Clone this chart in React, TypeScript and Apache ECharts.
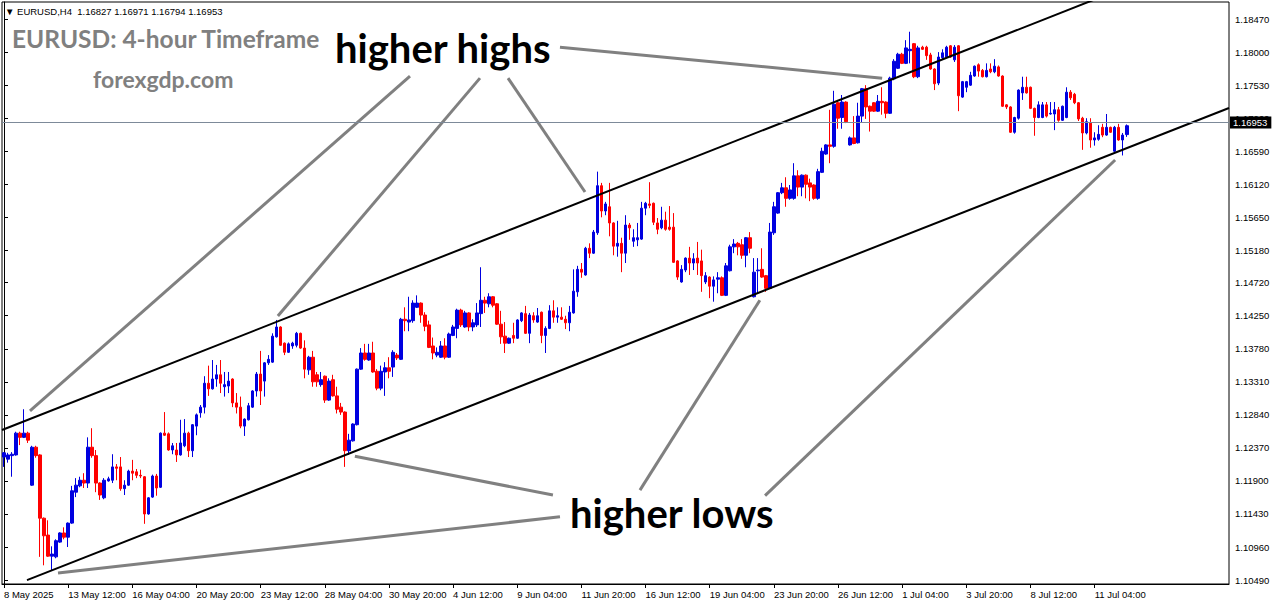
import React, { useEffect, useRef } from "react";
import * as echarts from "echarts";

// ---- Data (EURUSD H4) ----
const xTickLabels = [
  "8 May 2025", "13 May 12:00", "16 May 04:00", "20 May 20:00", "23 May 12:00",
  "28 May 04:00", "30 May 20:00", "4 Jun 12:00", "9 Jun 04:00", "11 Jun 20:00",
  "16 Jun 12:00", "19 Jun 04:00", "23 Jun 20:00", "26 Jun 12:00", "1 Jul 04:00",
  "3 Jul 20:00", "8 Jul 12:00", "11 Jul 04:00",
];

const yTickValues = [
  1.1049, 1.1096, 1.1143, 1.119, 1.1237, 1.1284, 1.1331, 1.1378, 1.1425,
  1.1472, 1.1518, 1.1565, 1.1612, 1.1659, 1.1706, 1.1753, 1.18, 1.1847,
];

const opens = [
  1.1224, 1.1221, 1.1226, 1.1227, 1.1258, 1.1252, 1.1258, 1.1184, 1.1238, 1.1227,
  1.1137, 1.1113, 1.1083, 1.1082, 1.1103, 1.1116, 1.1110, 1.1130, 1.1174, 1.1183,
  1.1191, 1.1187, 1.1238, 1.1226, 1.1187, 1.1166, 1.1190, 1.1191, 1.1210, 1.1210,
  1.1179, 1.1184, 1.1204, 1.1203, 1.1198, 1.1196, 1.1143, 1.1167, 1.1197, 1.1181,
  1.1258, 1.1257, 1.1234, 1.1234, 1.1227, 1.1240, 1.1258, 1.1233, 1.1268, 1.1287,
  1.1295, 1.1329, 1.1321, 1.1335, 1.1341, 1.1324, 1.1325, 1.1335, 1.1301, 1.1295,
  1.1268, 1.1277, 1.1295, 1.1318, 1.1342, 1.1332, 1.1358, 1.1359, 1.1395, 1.1409,
  1.1386, 1.1373, 1.1382, 1.1383, 1.1400, 1.1379, 1.1348, 1.1366, 1.1341, 1.1327,
  1.1339, 1.1305, 1.1334, 1.1311, 1.1295, 1.1288, 1.1233, 1.1247, 1.1270, 1.1349,
  1.1372, 1.1362, 1.1372, 1.1346, 1.1322, 1.1345, 1.1351, 1.1352, 1.1369, 1.1363,
  1.1420, 1.1416, 1.1418, 1.1437, 1.1443, 1.1426, 1.1412, 1.1382, 1.1369, 1.1366,
  1.1382, 1.1366, 1.1397, 1.1407, 1.1433, 1.1409, 1.1429, 1.1409, 1.1412, 1.1428,
  1.1447, 1.1442, 1.1452, 1.1442, 1.1413, 1.1396, 1.1386, 1.1397, 1.1393, 1.1418,
  1.1428, 1.1400, 1.1425, 1.1416, 1.1430, 1.1397, 1.1407, 1.1432, 1.1423, 1.1423,
  1.1420, 1.1415, 1.1429, 1.1459, 1.1491, 1.1483, 1.1521, 1.1514, 1.1543, 1.1610,
  1.1574, 1.1580, 1.1557, 1.1524, 1.1528, 1.1514, 1.1554, 1.1531, 1.1533, 1.1534,
  1.1578, 1.1584, 1.1585, 1.1557, 1.1550, 1.1561, 1.1551, 1.1551, 1.1503, 1.1473,
  1.1490, 1.1507, 1.1500, 1.1507, 1.1503, 1.1473, 1.1480, 1.1467, 1.1477, 1.1479,
  1.1454, 1.1489, 1.1523, 1.1528, 1.1526, 1.1511, 1.1536, 1.1452, 1.1489, 1.1491,
  1.1482, 1.1464, 1.1543, 1.1571, 1.1600, 1.1607, 1.1592, 1.1592, 1.1624, 1.1608,
  1.1625, 1.1614, 1.1611, 1.1592, 1.1629, 1.1655, 1.1668, 1.1666, 1.1728, 1.1707,
  1.1729, 1.1668, 1.1678, 1.1671, 1.1709, 1.1748, 1.1723, 1.1728, 1.1716, 1.1730,
  1.1729, 1.1713, 1.1762, 1.1777, 1.1797, 1.1784, 1.1802, 1.1812, 1.1765, 1.1807,
  1.1807, 1.1796, 1.1776, 1.1756, 1.1792, 1.1793, 1.1809, 1.1789, 1.1809, 1.1736,
  1.1750, 1.1753, 1.1766, 1.1782, 1.1774, 1.1765, 1.1776, 1.1772, 1.1779, 1.1766,
  1.1725, 1.1722, 1.1686, 1.1706, 1.1742, 1.1750, 1.1750, 1.1720, 1.1707, 1.1707,
  1.1725, 1.1712, 1.1712, 1.1718, 1.1703, 1.1707, 1.1743, 1.1740, 1.1728, 1.1706,
  1.1685, 1.1699, 1.1675, 1.1676, 1.1693, 1.1682, 1.1693, 1.1659, 1.1693, 1.1675,
  1.16827,
];

const closes = [
  1.1230, 1.1227, 1.1228, 1.1258, 1.1252, 1.1258, 1.1248, 1.1238, 1.1226, 1.1137,
  1.1112, 1.1083, 1.1086, 1.1105, 1.1116, 1.1110, 1.1130, 1.1176, 1.1184, 1.1191,
  1.1187, 1.1238, 1.1226, 1.1187, 1.1170, 1.1191, 1.1193, 1.1210, 1.1208, 1.1179,
  1.1184, 1.1204, 1.1201, 1.1198, 1.1197, 1.1143, 1.1166, 1.1197, 1.1180, 1.1258,
  1.1255, 1.1234, 1.1240, 1.1227, 1.1244, 1.1258, 1.1233, 1.1270, 1.1284, 1.1295,
  1.1329, 1.1321, 1.1335, 1.1341, 1.1329, 1.1327, 1.1332, 1.1301, 1.1295, 1.1268,
  1.1278, 1.1297, 1.1318, 1.1342, 1.1318, 1.1358, 1.1363, 1.1396, 1.1409, 1.1383,
  1.1373, 1.1385, 1.1386, 1.1400, 1.1379, 1.1349, 1.1366, 1.1331, 1.1331, 1.1334,
  1.1305, 1.1332, 1.1311, 1.1292, 1.1288, 1.1233, 1.1248, 1.1271, 1.1349, 1.1372,
  1.1363, 1.1372, 1.1345, 1.1322, 1.1346, 1.1351, 1.1346, 1.1373, 1.1365, 1.1420,
  1.1418, 1.1419, 1.1443, 1.1443, 1.1426, 1.1410, 1.1380, 1.1372, 1.1373, 1.1382,
  1.1366, 1.1399, 1.1409, 1.1433, 1.1412, 1.1429, 1.1409, 1.1415, 1.1429, 1.1447,
  1.1443, 1.1452, 1.1440, 1.1413, 1.1395, 1.1386, 1.1393, 1.1393, 1.1419, 1.1429,
  1.1400, 1.1426, 1.1419, 1.1425, 1.1397, 1.1407, 1.1432, 1.1423, 1.1425, 1.1420,
  1.1415, 1.1430, 1.1460, 1.1491, 1.1487, 1.1521, 1.1514, 1.1544, 1.1610, 1.1574,
  1.1584, 1.1557, 1.1524, 1.1528, 1.1514, 1.1554, 1.1550, 1.1536, 1.1536, 1.1578,
  1.1585, 1.1582, 1.1558, 1.1548, 1.1561, 1.1548, 1.1548, 1.1501, 1.1480, 1.1491,
  1.1507, 1.1500, 1.1506, 1.1500, 1.1482, 1.1482, 1.1467, 1.1476, 1.1479, 1.1454,
  1.1496, 1.1523, 1.1527, 1.1523, 1.1511, 1.1536, 1.1521, 1.1487, 1.1490, 1.1480,
  1.1464, 1.1544, 1.1580, 1.1600, 1.1607, 1.1592, 1.1604, 1.1624, 1.1608, 1.1625,
  1.1612, 1.1608, 1.1592, 1.1630, 1.1659, 1.1668, 1.1666, 1.1726, 1.1706, 1.1729,
  1.1701, 1.1678, 1.1670, 1.1709, 1.1748, 1.1722, 1.1716, 1.1716, 1.1730, 1.1728,
  1.1713, 1.1763, 1.1787, 1.1797, 1.1784, 1.1806, 1.1804, 1.1765, 1.1806, 1.1804,
  1.1795, 1.1776, 1.1755, 1.1793, 1.1799, 1.1807, 1.1793, 1.1807, 1.1738, 1.1758,
  1.1758, 1.1767, 1.1780, 1.1773, 1.1765, 1.1774, 1.1772, 1.1780, 1.1766, 1.1723,
  1.1722, 1.1686, 1.1707, 1.1746, 1.1750, 1.1742, 1.1720, 1.1707, 1.1725, 1.1725,
  1.1709, 1.1713, 1.1718, 1.1703, 1.1723, 1.1743, 1.1735, 1.1728, 1.1705, 1.1685,
  1.1701, 1.1675, 1.1678, 1.1683, 1.1682, 1.1693, 1.1686, 1.1693, 1.1675, 1.1682,
  1.16953,
];

const lows = [
  1.1210, 1.1216, 1.1196, 1.1226, 1.1241, 1.1251, 1.1244, 1.1183, 1.1223, 1.1082,
  1.1070, 1.1082, 1.1063, 1.1080, 1.1102, 1.1107, 1.1096, 1.1129, 1.1167, 1.1181,
  1.1180, 1.1180, 1.1223, 1.1174, 1.1163, 1.1164, 1.1189, 1.1187, 1.1191, 1.1176,
  1.1170, 1.1183, 1.1191, 1.1194, 1.1194, 1.1129, 1.1142, 1.1166, 1.1169, 1.1180,
  1.1254, 1.1233, 1.1228, 1.1217, 1.1226, 1.1238, 1.1224, 1.1224, 1.1255, 1.1280,
  1.1286, 1.1311, 1.1320, 1.1324, 1.1315, 1.1310, 1.1315, 1.1295, 1.1286, 1.1265,
  1.1254, 1.1276, 1.1294, 1.1310, 1.1298, 1.1310, 1.1355, 1.1358, 1.1394, 1.1382,
  1.1369, 1.1372, 1.1378, 1.1380, 1.1378, 1.1336, 1.1341, 1.1324, 1.1324, 1.1324,
  1.1301, 1.1304, 1.1310, 1.1286, 1.1284, 1.1210, 1.1227, 1.1246, 1.1269, 1.1348,
  1.1361, 1.1361, 1.1344, 1.1319, 1.1319, 1.1311, 1.1336, 1.1338, 1.1362, 1.1362,
  1.1403, 1.1403, 1.1415, 1.1436, 1.1415, 1.1403, 1.1379, 1.1363, 1.1366, 1.1365,
  1.1363, 1.1365, 1.1396, 1.1393, 1.1409, 1.1408, 1.1403, 1.1403, 1.1409, 1.1409,
  1.1429, 1.1437, 1.1437, 1.1412, 1.1385, 1.1372, 1.1385, 1.1386, 1.1392, 1.1416,
  1.1399, 1.1386, 1.1415, 1.1415, 1.1386, 1.1372, 1.1406, 1.1415, 1.1415, 1.1419,
  1.1406, 1.1403, 1.1428, 1.1452, 1.1479, 1.1482, 1.1507, 1.1513, 1.1540, 1.1565,
  1.1568, 1.1538, 1.1511, 1.1509, 1.1487, 1.1500, 1.1533, 1.1523, 1.1524, 1.1533,
  1.1568, 1.1578, 1.1554, 1.1541, 1.1548, 1.1546, 1.1546, 1.1500, 1.1476, 1.1472,
  1.1487, 1.1483, 1.1490, 1.1483, 1.1459, 1.1470, 1.1450, 1.1445, 1.1457, 1.1453,
  1.1453, 1.1488, 1.1514, 1.1511, 1.1506, 1.1494, 1.1514, 1.1451, 1.1457, 1.1479,
  1.1459, 1.1463, 1.1540, 1.1570, 1.1598, 1.1580, 1.1590, 1.1590, 1.1595, 1.1595,
  1.1592, 1.1588, 1.1590, 1.1590, 1.1628, 1.1654, 1.1642, 1.1664, 1.1691, 1.1691,
  1.1699, 1.1667, 1.1669, 1.1670, 1.1700, 1.1705, 1.1687, 1.1715, 1.1715, 1.1711,
  1.1706, 1.1712, 1.1760, 1.1776, 1.1783, 1.1783, 1.1784, 1.1763, 1.1763, 1.1803,
  1.1789, 1.1775, 1.1746, 1.1753, 1.1790, 1.1792, 1.1792, 1.1786, 1.1716, 1.1735,
  1.1743, 1.1752, 1.1765, 1.1765, 1.1764, 1.1764, 1.1770, 1.1770, 1.1765, 1.1722,
  1.1719, 1.1685, 1.1684, 1.1704, 1.1732, 1.1741, 1.1719, 1.1681, 1.1706, 1.1706,
  1.1707, 1.1711, 1.1689, 1.1701, 1.1702, 1.1706, 1.1732, 1.1726, 1.1702, 1.1661,
  1.1683, 1.1664, 1.1667, 1.1674, 1.1679, 1.1681, 1.1685, 1.1658, 1.1674, 1.1653,
  1.16794,
];

const highs = [
  1.1231, 1.1230, 1.1231, 1.1260, 1.1260, 1.1292, 1.1260, 1.1240, 1.1240, 1.1228,
  1.1138, 1.1134, 1.1097, 1.1107, 1.1117, 1.1124, 1.1131, 1.1183, 1.1194, 1.1196,
  1.1201, 1.1252, 1.1265, 1.1234, 1.1188, 1.1194, 1.1196, 1.1228, 1.1214, 1.1224,
  1.1191, 1.1206, 1.1220, 1.1207, 1.1206, 1.1197, 1.1167, 1.1199, 1.1200, 1.1259,
  1.1288, 1.1259, 1.1244, 1.1244, 1.1277, 1.1278, 1.1260, 1.1271, 1.1286, 1.1298,
  1.1339, 1.1354, 1.1362, 1.1355, 1.1362, 1.1345, 1.1345, 1.1336, 1.1315, 1.1310,
  1.1279, 1.1301, 1.1319, 1.1345, 1.1375, 1.1359, 1.1369, 1.1400, 1.1419, 1.1410,
  1.1387, 1.1387, 1.1388, 1.1402, 1.1401, 1.1390, 1.1368, 1.1375, 1.1345, 1.1345,
  1.1340, 1.1336, 1.1341, 1.1324, 1.1301, 1.1289, 1.1257, 1.1272, 1.1350, 1.1379,
  1.1385, 1.1385, 1.1388, 1.1349, 1.1354, 1.1359, 1.1366, 1.1376, 1.1372, 1.1422,
  1.1437, 1.1452, 1.1447, 1.1454, 1.1444, 1.1430, 1.1418, 1.1394, 1.1380, 1.1389,
  1.1393, 1.1401, 1.1412, 1.1435, 1.1435, 1.1432, 1.1430, 1.1420, 1.1443, 1.1494,
  1.1452, 1.1457, 1.1453, 1.1443, 1.1432, 1.1416, 1.1394, 1.1415, 1.1420, 1.1430,
  1.1439, 1.1429, 1.1430, 1.1436, 1.1431, 1.1410, 1.1440, 1.1447, 1.1437, 1.1437,
  1.1425, 1.1439, 1.1491, 1.1496, 1.1500, 1.1523, 1.1528, 1.1547, 1.1630, 1.1614,
  1.1587, 1.1614, 1.1558, 1.1560, 1.1536, 1.1568, 1.1557, 1.1548, 1.1557, 1.1587,
  1.1587, 1.1615, 1.1586, 1.1564, 1.1580, 1.1573, 1.1581, 1.1571, 1.1504, 1.1497,
  1.1508, 1.1523, 1.1514, 1.1530, 1.1519, 1.1487, 1.1481, 1.1481, 1.1487, 1.1481,
  1.1500, 1.1526, 1.1534, 1.1530, 1.1534, 1.1537, 1.1544, 1.1507, 1.1507, 1.1521,
  1.1483, 1.1557, 1.1587, 1.1601, 1.1614, 1.1622, 1.1611, 1.1642, 1.1632, 1.1626,
  1.1626, 1.1620, 1.1612, 1.1634, 1.1664, 1.1669, 1.1718, 1.1745, 1.1732, 1.1739,
  1.1730, 1.1680, 1.1709, 1.1728, 1.1749, 1.1753, 1.1724, 1.1729, 1.1739, 1.1750,
  1.1730, 1.1765, 1.1790, 1.1799, 1.1799, 1.1817, 1.1829, 1.1813, 1.1809, 1.1809,
  1.1809, 1.1799, 1.1777, 1.1800, 1.1804, 1.1809, 1.1810, 1.1810, 1.1810, 1.1759,
  1.1759, 1.1772, 1.1781, 1.1784, 1.1776, 1.1784, 1.1784, 1.1790, 1.1781, 1.1767,
  1.1726, 1.1723, 1.1708, 1.1747, 1.1765, 1.1765, 1.1751, 1.1721, 1.1730, 1.1729,
  1.1729, 1.1729, 1.1729, 1.1722, 1.1724, 1.1750, 1.1746, 1.1742, 1.1729, 1.1708,
  1.1706, 1.1706, 1.1686, 1.1696, 1.1698, 1.1712, 1.1694, 1.1695, 1.1698, 1.1685,
  1.16971,
];

// annotation lines in (bar index, price) space
const upperChannel = [[-0.5, 1.12624], [274.8, 1.18812]];
const lowerChannel = [[5.73, 1.1049], [305.5, 1.17205]];
const pointerLines = [
  [[101.25, 1.1766], [6.48, 1.12895]],
  [[118.7, 1.1763], [68.3, 1.14246]],
  [[125.7, 1.1763], [144.9, 1.1601]],
  [[138.65, 1.1807], [219.0, 1.1763]],
  [[136.9, 1.117], [87.5, 1.1225]],
  [[158.6, 1.1177], [188.5, 1.1447]],
  [[189.8, 1.1169], [277.1, 1.16465]],
  [[138.65, 1.1139], [13.47, 1.1059]],
];

const SLOTS = 306;
const LABEL_EVERY = 16;
const Y_MIN = 1.10434;
const Y_MAX = 1.18713;

const FONT = '"Liberation Sans", Arial, sans-serif';

export default function App() {
  const ref = useRef<HTMLDivElement>(null);

  useEffect(() => {
    if (!ref.current) return;
    const chart = echarts.init(ref.current, undefined, { renderer: "svg" });

    const categories = Array.from({ length: SLOTS }, (_, i) => String(i));
    const candles = opens.map((o, i) => [o, closes[i], lows[i], highs[i]]);
    const lastClose = closes[closes.length - 1];
    const isLabelIdx = (i: number) =>
      i % LABEL_EVERY === 0 && i / LABEL_EVERY < xTickLabels.length;

    const lineSeries = (data: number[][], color: string, width: number) => ({
      type: "line",
      xAxisIndex: 1,
      yAxisIndex: 0,
      data,
      showSymbol: false,
      symbol: "none",
      silent: true,
      clip: true,
      z: 5,
      lineStyle: { color, width, cap: "butt" },
    });

    const option: any = {
      animation: false,
      backgroundColor: "#ffffff",
      grid: {
        left: 2,
        right: 47,
        top: 2,
        bottom: 20,
        show: true,
        borderColor: "#000",
        borderWidth: 1,
        backgroundColor: "#fff",
      },
      xAxis: [
        {
          type: "category",
          data: categories,
          boundaryGap: true,
          axisLine: { show: true, lineStyle: { color: "#000", width: 1 } },
          axisTick: {
            show: true,
            alignWithLabel: true,
            interval: (i: number) => isLabelIdx(i),
            length: 4,
            lineStyle: { color: "#000" },
          },
          axisLabel: {
            show: true,
            interval: (i: number) => isLabelIdx(i),
            formatter: (v: string) => {
              const i = Number(v);
              return isLabelIdx(i) ? xTickLabels[i / LABEL_EVERY] : "";
            },
            align: "left",
            margin: 5,
            color: "#000",
            fontSize: 9.5,
            fontFamily: FONT,
          },
          splitLine: { show: false },
        },
        {
          type: "value",
          min: -0.5,
          max: SLOTS - 0.5,
          show: false,
        },
      ],
      yAxis: {
        type: "value",
        position: "right",
        min: Y_MIN,
        max: Y_MAX,
        scale: true,
        axisLine: { show: true, lineStyle: { color: "#000", width: 1 } },
        axisTick: {
          show: true,
          customValues: yTickValues,
          length: 4,
          lineStyle: { color: "#000" },
        },
        axisLabel: {
          show: true,
          customValues: yTickValues,
          formatter: (v: number) => v.toFixed(5),
          margin: 6,
          color: "#000",
          fontSize: 9.5,
          fontFamily: FONT,
        },
        splitLine: { show: false },
      },
      series: [
        {
          type: "candlestick",
          xAxisIndex: 0,
          yAxisIndex: 0,
          data: candles,
          barWidth: 3,
          z: 3,
          itemStyle: {
            color: "#0000E0",
            color0: "#FF0000",
            borderColor: "#0000E0",
            borderColor0: "#FF0000",
            borderWidth: 1,
          },
          markLine: {
            symbol: ["none", "none"],
            silent: true,
            z: 10,
            lineStyle: { color: "#7D8A99", width: 1, type: "solid" },
            label: {
              show: true,
              position: "end",
              distance: 1,
              formatter: () => lastClose.toFixed(5),
              backgroundColor: "#000",
              color: "#fff",
              padding: [1, 4, 0, 3],
              lineHeight: 11,
              fontSize: 9.5,
              fontFamily: FONT,
            },
            data: [{ yAxis: lastClose }],
          },
        },
        lineSeries(upperChannel, "#000", 2),
        lineSeries(lowerChannel, "#000", 2),
        ...pointerLines.map((seg) => lineSeries(seg, "#808080", 3)),
      ],
      graphic: [
        {
          type: "text",
          x: 5,
          y: 11,
          z: 20,
          style: {
            text: "▼ EURUSD,H4  1.16827 1.16971 1.16794 1.16953",
            font: `9.5px ${FONT}`,
            fill: "#000",
            textAlign: "left",
            textVerticalAlign: "middle",
          },
        },
        {
          type: "text",
          x: 12,
          y: 38,
          z: 20,
          style: {
            text: "EURUSD: 4-hour Timeframe",
            font: 'bold 24.5px Lato, "Open Sans", sans-serif',
            fill: "#808080",
            textAlign: "left",
            textVerticalAlign: "middle",
          },
        },
        {
          type: "text",
          x: 93,
          y: 79,
          z: 20,
          style: {
            text: "forexgdp.com",
            font: 'bold 23px Lato, "Open Sans", sans-serif',
            fill: "#808080",
            textAlign: "left",
            textVerticalAlign: "middle",
          },
        },
        {
          type: "text",
          x: 335,
          y: 48,
          z: 20,
          style: {
            text: "higher highs",
            font: 'bold 40px Lato, "Open Sans", sans-serif',
            fill: "#000",
            textAlign: "left",
            textVerticalAlign: "middle",
          },
        },
        {
          type: "text",
          x: 570,
          y: 513,
          z: 20,
          style: {
            text: "higher lows",
            font: 'bold 40px Lato, "Open Sans", sans-serif',
            fill: "#000",
            textAlign: "left",
            textVerticalAlign: "middle",
          },
        },
      ],
    };

    chart.setOption(option);
    return () => chart.dispose();
  }, []);

  return (
    <div
      ref={ref}
      style={{ position: "fixed", left: 0, top: 0, width: 1276, height: 604, background: "#fff" }}
    />
  );
}
